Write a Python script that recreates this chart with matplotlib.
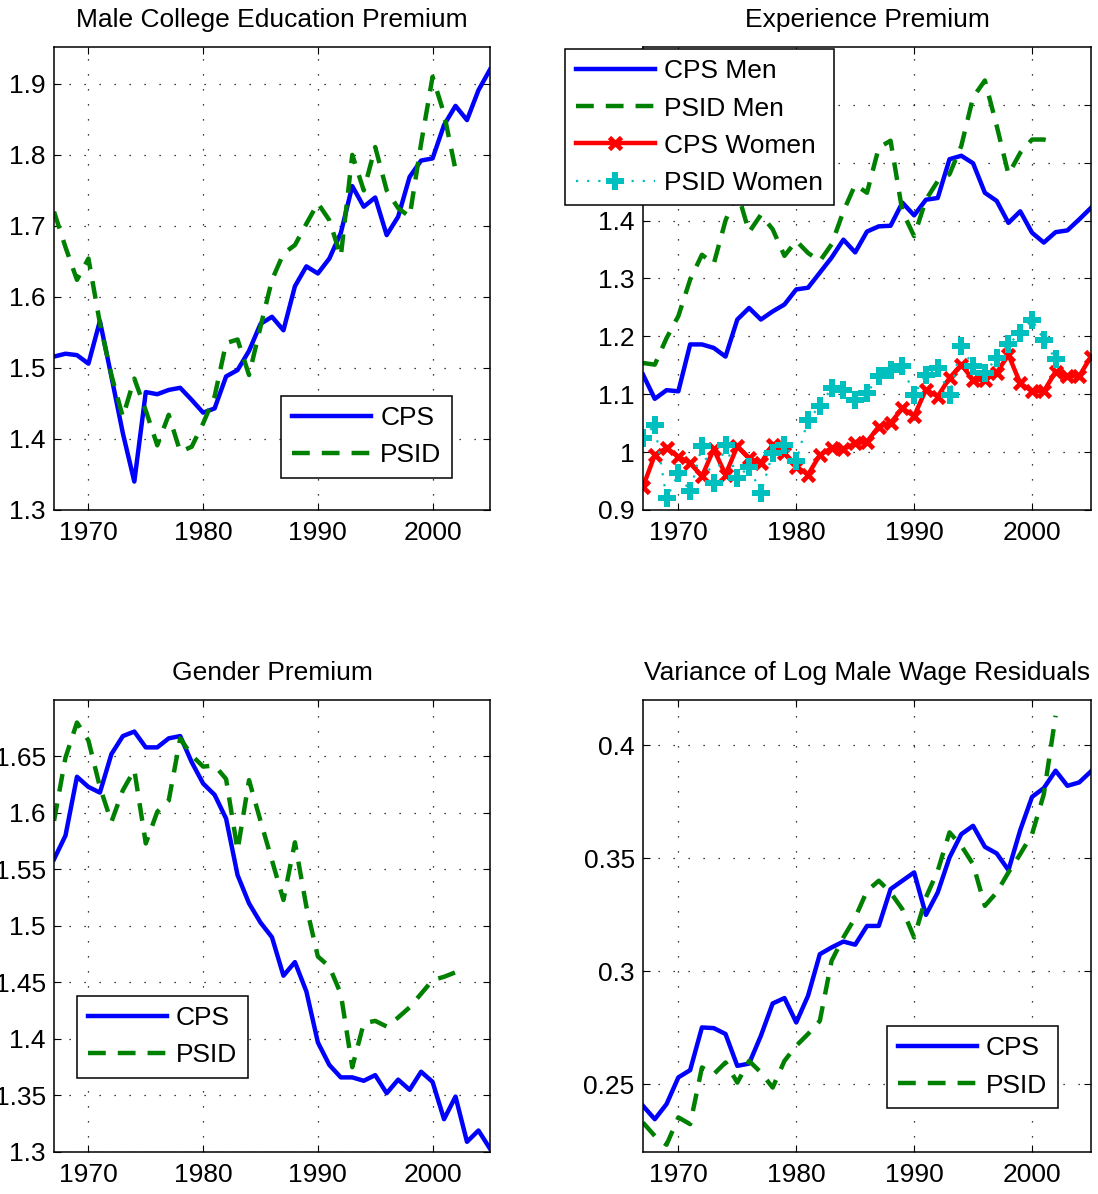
import matplotlib
matplotlib.use("Agg")
import matplotlib.pyplot as plt
import numpy as np

plt.rcParams["font.family"] = ["Liberation Sans", "DejaVu Sans"]

# ------------------------------------------------------------------ #
#  data
# ------------------------------------------------------------------ #
years_cps = np.arange(1967, 2006)
years_psid = np.arange(1967, 2003)

# Male College Education Premium
college_cps = [1.516, 1.520, 1.518, 1.506, 1.566, 1.488, 1.408, 1.340, 1.466, 1.463,
               1.469, 1.472, 1.455, 1.437, 1.443, 1.488, 1.497, 1.524, 1.562, 1.572,
               1.553, 1.615, 1.643, 1.633, 1.654, 1.690, 1.756, 1.727, 1.740, 1.687,
               1.713, 1.769, 1.792, 1.795, 1.842, 1.869, 1.849, 1.891, 1.920]
college_psid = [1.720, 1.670, 1.624, 1.654, 1.563, 1.490, 1.431, 1.485, 1.440, 1.391,
                1.434, 1.382, 1.389, 1.422, 1.460, 1.535, 1.540, 1.490, 1.558, 1.624,
                1.661, 1.673, 1.703, 1.732, 1.708, 1.657, 1.800, 1.750, 1.811, 1.750,
                1.725, 1.713, 1.816, 1.910, 1.858, 1.779]

# Experience Premium
exp_cps_men = [1.134, 1.092, 1.107, 1.105, 1.186, 1.186, 1.180, 1.165, 1.229, 1.249,
               1.229, 1.243, 1.255, 1.281, 1.284, 1.310, 1.336, 1.367, 1.345, 1.381,
               1.390, 1.391, 1.431, 1.409, 1.436, 1.439, 1.506, 1.512, 1.499, 1.448,
               1.434, 1.396, 1.416, 1.379, 1.362, 1.380, 1.383, 1.402, 1.422]
exp_psid_men = [1.154, 1.151, 1.197, 1.235, 1.298, 1.341, 1.325, 1.400, 1.450, 1.380,
                1.410, 1.385, 1.339, 1.365, 1.344, 1.330, 1.359, 1.416, 1.462, 1.448,
                1.526, 1.538, 1.416, 1.373, 1.436, 1.468, 1.480, 1.529, 1.613, 1.642,
                1.564, 1.480, 1.517, 1.540, 1.540, 1.535]
exp_cps_women = [0.940, 0.995, 1.007, 0.992, 0.981, 0.958, 1.005, 0.961, 1.010, 0.989,
                 0.981, 1.013, 0.998, 0.975, 0.961, 0.995, 1.007, 1.005, 1.015, 1.018,
                 1.044, 1.050, 1.076, 1.062, 1.108, 1.096, 1.128, 1.151, 1.125, 1.125,
                 1.137, 1.168, 1.119, 1.105, 1.105, 1.139, 1.131, 1.131, 1.165]
exp_psid_women = [1.024, 1.047, 0.920, 0.963, 0.932, 1.010, 0.946, 1.013, 0.955, 0.975,
                  0.929, 0.998, 1.013, 0.984, 1.056, 1.079, 1.111, 1.108, 1.090, 1.102,
                  1.131, 1.142, 1.148, 1.099, 1.134, 1.145, 1.099, 1.183, 1.148, 1.137,
                  1.163, 1.186, 1.206, 1.229, 1.194, 1.160]

# Gender Premium
gender_cps = [1.559, 1.580, 1.632, 1.623, 1.618, 1.652, 1.668, 1.672, 1.658, 1.658,
              1.666, 1.668, 1.645, 1.626, 1.616, 1.595, 1.545, 1.520, 1.503, 1.490,
              1.456, 1.468, 1.442, 1.397, 1.377, 1.366, 1.366, 1.363, 1.368, 1.352,
              1.364, 1.355, 1.371, 1.362, 1.329, 1.349, 1.309, 1.319, 1.303]
gender_psid = [1.593, 1.649, 1.680, 1.664, 1.623, 1.592, 1.620, 1.638, 1.573, 1.601,
               1.611, 1.666, 1.651, 1.641, 1.642, 1.630, 1.567, 1.629, 1.593, 1.558,
               1.523, 1.574, 1.517, 1.473, 1.464, 1.440, 1.375, 1.414, 1.416, 1.411,
               1.419, 1.428, 1.440, 1.452, 1.455, 1.459]

# Variance of Log Male Wage Residuals
var_cps = [0.2404, 0.2345, 0.2412, 0.2530, 0.2562, 0.2751, 0.2748, 0.2722, 0.2581, 0.2591,
           0.2714, 0.2857, 0.2881, 0.2773, 0.2891, 0.3075, 0.3105, 0.3131, 0.3117, 0.3200,
           0.3200, 0.3363, 0.3400, 0.3437, 0.3249, 0.3348, 0.3503, 0.3606, 0.3643, 0.3550,
           0.3521, 0.3447, 0.3624, 0.3771, 0.3810, 0.3887, 0.3820, 0.3835, 0.3884]
var_psid = [0.2330, 0.2271, 0.2232, 0.2353, 0.2323, 0.2574, 0.2544, 0.2596, 0.2507, 0.2603,
            0.2552, 0.2485, 0.2603, 0.2670, 0.2722, 0.2780, 0.3046, 0.3149, 0.3237, 0.3355,
            0.3400, 0.3348, 0.3274, 0.3149, 0.3326, 0.3444, 0.3614, 0.3555, 0.3473, 0.3289,
            0.3348, 0.3437, 0.3518, 0.3606, 0.3783, 0.4130]

# ------------------------------------------------------------------ #
#  style helpers (MATLAB-like look)
# ------------------------------------------------------------------ #
FS = 19
LW = 3.2
BLUE, GREEN, RED, CYAN = "#0000ff", "#008000", "#ff0000", "#00bfbf"
DASH = (0, (4, 2.7))


def style_axes(ax, title, ylim, yticks, yticklabels):
    ax.set_xlim(1967, 2005)
    ax.set_ylim(*ylim)
    ax.set_xticks([1970, 1980, 1990, 2000])
    ax.set_yticks(yticks)
    ax.set_yticklabels(yticklabels)
    ax.tick_params(direction="in", length=5, width=0.8, top=True, right=True,
                   labelsize=FS)
    ax.tick_params(axis="x", pad=8)
    ax.tick_params(axis="y", pad=6)
    ax.grid(True, color="k", linestyle=(0, (1, 11)), linewidth=0.9)
    for sp in ax.spines.values():
        sp.set_linewidth(1.1)
    ax.set_title(title, fontsize=FS, pad=14)


def add_legend(ax, loc, anchor):
    leg = ax.legend(loc=loc, bbox_to_anchor=anchor, fontsize=FS, fancybox=False,
                    framealpha=1, edgecolor="k", handlelength=3.0,
                    handletextpad=0.35, labelspacing=0.5, borderpad=0.4,
                    borderaxespad=0)
    leg.get_frame().set_linewidth(1.1)
    return leg


fig = plt.figure(figsize=(10.98, 11.94), dpi=100)

ax1 = fig.add_axes([0.0492, 0.5729, 0.397, 0.3878])
ax2 = fig.add_axes([0.5856, 0.5729, 0.408, 0.3878])
ax3 = fig.add_axes([0.0492, 0.0352, 0.397, 0.3786])
ax4 = fig.add_axes([0.5856, 0.0352, 0.408, 0.3786])

# ── Male College Education Premium
ax1.plot(years_cps, college_cps, color=BLUE, lw=LW, label="CPS")
ax1.plot(years_psid, college_psid, color=GREEN, lw=LW, linestyle=DASH, label="PSID")
style_axes(ax1, "Male College Education Premium", (1.3, 1.952),
           np.arange(1.3, 1.95, 0.1), ["1.3", "1.4", "1.5", "1.6", "1.7", "1.8", "1.9"])
add_legend(ax1, "lower right", (0.913, 0.069))

# ── Experience Premium
ax2.plot(years_cps, exp_cps_men, color=BLUE, lw=LW, label="CPS Men")
ax2.plot(years_psid, exp_psid_men, color=GREEN, lw=LW, linestyle=DASH, label="PSID Men")
ax2.plot(years_cps, exp_cps_women, color=RED, lw=LW, marker="x", markersize=8.5,
         markeredgewidth=3.4, label="CPS Women")
ax2.plot(years_psid, exp_psid_women, color=CYAN, lw=1.6, linestyle=(0, (1, 4)),
         marker="P", markersize=12.5, markeredgewidth=0, label="PSID Women")
style_axes(ax2, "Experience Premium", (0.9, 1.7),
           np.arange(0.9, 1.65, 0.1),
           ["0.9", "1", "1.1", "1.2", "1.3", "1.4", "1.5", "1.6"])
add_legend(ax2, "upper left", (-0.174, 0.996))

# ── Gender Premium
ax3.plot(years_cps, gender_cps, color=BLUE, lw=LW, label="CPS")
ax3.plot(years_psid, gender_psid, color=GREEN, lw=LW, linestyle=DASH, label="PSID")
style_axes(ax3, "Gender Premium", (1.3, 1.70),
           np.arange(1.3, 1.66, 0.05),
           ["1.3", "1.35", "1.4", "1.45", "1.5", "1.55", "1.6", "1.65"])
add_legend(ax3, "lower left", (0.053, 0.164))

# ── Variance of Log Male Wage Residuals
ax4.plot(years_cps, var_cps, color=BLUE, lw=LW, label="CPS")
ax4.plot(years_psid, var_psid, color=GREEN, lw=LW, linestyle=DASH, label="PSID")
style_axes(ax4, "Variance of Log Male Wage Residuals", (0.22, 0.42),
           [0.25, 0.30, 0.35, 0.40], ["0.25", "0.3", "0.35", "0.4"])
add_legend(ax4, "lower right", (0.926, 0.097))

fig.savefig("out.png", dpi=100)
